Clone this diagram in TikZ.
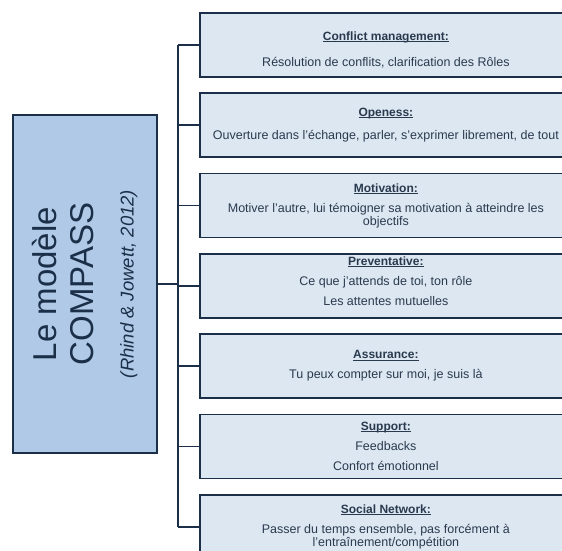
\documentclass[tikz,border=0pt]{standalone}
\usepackage{fontspec}
\setmainfont{Liberation Sans}
\usepackage{xcolor}
\usetikzlibrary{positioning}

\definecolor{navy}{HTML}{1B2F48}
\definecolor{modelfill}{HTML}{AFC9E6}
\definecolor{itemfill}{HTML}{DDE7F2}
\definecolor{inktext}{HTML}{2A3A4E}

% bold heading, underlined just under the baseline
\newcommand{\itemhead}[1]{\setbox0\hbox{\fontsize{12}{13}\selectfont\bfseries #1}\rlap{\rule[-1.4pt]{\wd0}{0.8pt}}\box0}

\begin{document}
\begin{tikzpicture}[x=1pt, y=-1pt,
    model/.style={draw=navy, line width=1.8pt, fill=modelfill, rotate=90,
      minimum width=338pt, minimum height=144pt, inner sep=0pt, align=center,
      text=navy, font=\fontsize{33}{37}\selectfont},
    item/.style={draw=navy, line width=1.8pt, fill=itemfill, minimum width=372pt,
      minimum height=64pt, inner sep=0pt, align=center, text=inktext,
      font=\fontsize{12.5}{13}\selectfont},
    link/.style={draw=navy, line width=1.8pt}]
  \useasboundingbox (0,0) rectangle (562,550);
  \clip (0,0) rectangle (562,550);

  \node[model] (modele) at (85,284) {Le modèle\\COMPASS\\[3pt]%
    {\fontsize{18.5}{22}\selectfont\itshape (Rhind \& Jowett, 2012)}};

  \node[item, anchor=north west] (conflict) at (199,12)
    {\rule{0pt}{19pt}\itemhead{Conflict management:}\\[12.5pt]Résolution de conflits, clarification des Rôles};
  \node[item, below=14.5pt of conflict] (openess)
    {\itemhead{Openess:}\\[10pt]Ouverture dans l’échange, parler, s’exprimer librement, de tout};
  \node[item, below=14.5pt of openess] (motivation)
    {\itemhead{Motivation:}\\[7pt]Motiver l’autre, lui témoigner sa motivation à atteindre les\\objectifs};
  \node[item, below=14.5pt of motivation] (preventative)
    {\itemhead{Preventative:}\\[7pt]Ce que j’attends de toi, ton rôle\\[7pt]Les attentes mutuelles\rule[-10pt]{0pt}{1pt}};
  \node[item, below=14.5pt of preventative] (assurance)
    {\itemhead{Assurance:}\\[7pt]Tu peux compter sur moi, je suis là};
  \node[item, below=14.5pt of assurance] (support)
    {\itemhead{Support:}\\[7pt]Feedbacks\\[7pt]Confort émotionnel};
  \node[item, below=14.5pt of support] (network)
    {\itemhead{Social Network:}\\[7pt]Passer du temps ensemble, pas forcément à\\l’entraînement/compétition};

  \coordinate (trunk) at (178,0);
  \draw[link] (conflict.west -| trunk) -- (network.west -| trunk);
  \draw[link] (modele.south) -- (modele.south -| trunk);
  \draw[link] (conflict.west) -- (conflict.west -| trunk);
  \draw[link] (openess.west) -- (openess.west -| trunk);
  \draw[link] (motivation.west) -- (motivation.west -| trunk);
  \draw[link] (preventative.west) -- (preventative.west -| trunk);
  \draw[link] (assurance.west) -- (assurance.west -| trunk);
  \draw[link] (support.west) -- (support.west -| trunk);
  \draw[link] (network.west) -- (network.west -| trunk);
\end{tikzpicture}
\end{document}
